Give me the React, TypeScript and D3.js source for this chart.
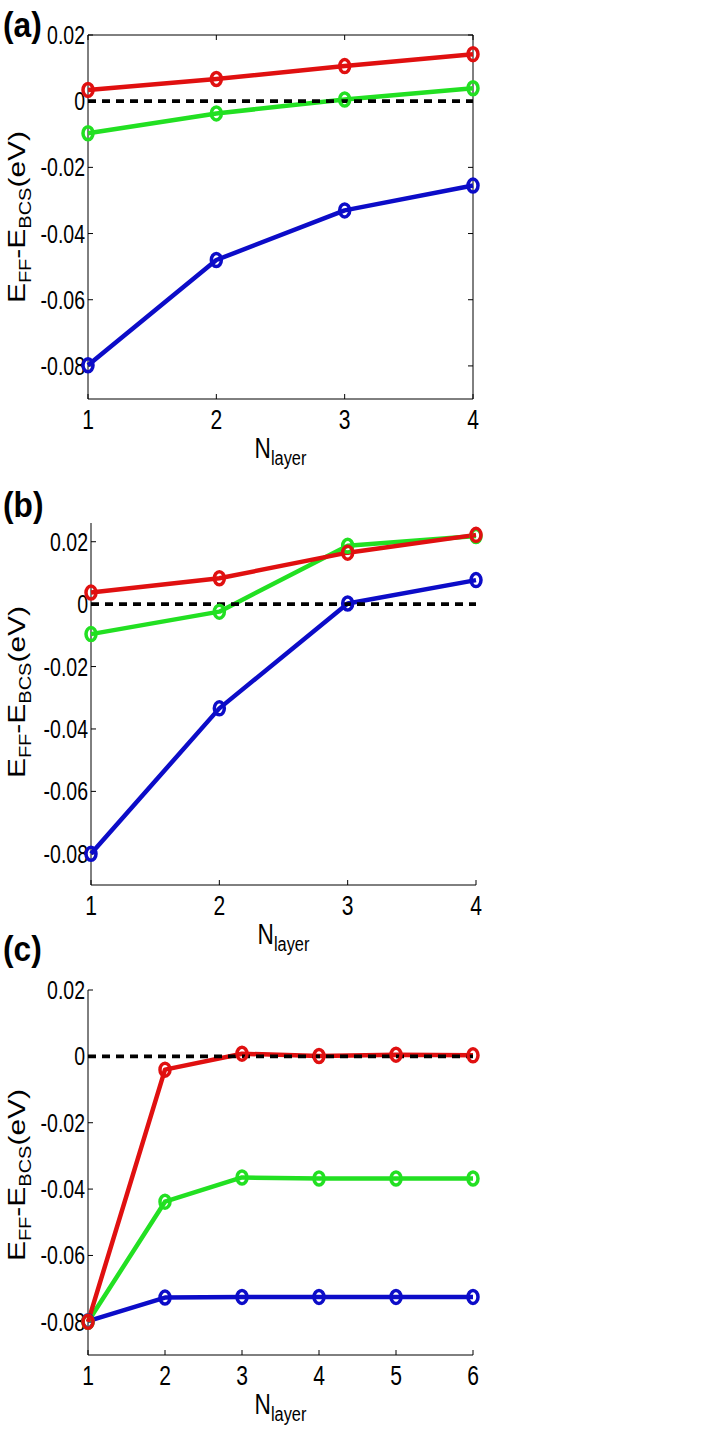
import React from "react";
import * as d3 from "d3";

// N_layer values
const layers4 = [1, 2, 3, 4];
const layers6 = [1, 2, 3, 4, 5, 6];

// (a) E_FF - E_BCS (eV)
const redA = [0.0034, 0.0067, 0.0106, 0.0142];
const greenA = [-0.0097, -0.0037, 0.0005, 0.0039];
const blueA = [-0.0798, -0.048, -0.033, -0.0255];

// (b)
const redB = [0.0037, 0.0083, 0.0165, 0.0222];
const greenB = [-0.0096, -0.0024, 0.0187, 0.0218];
const blueB = [-0.08, -0.0334, 0.0002, 0.0077];

// (c)
const redC = [-0.08, -0.004, 0.0008, 0.0001, 0.0005, 0.0003];
const greenC = [-0.08, -0.0438, -0.0365, -0.0368, -0.0368, -0.0368];
const blueC = [-0.0798, -0.0727, -0.0725, -0.0725, -0.0725, -0.0725];

const yTicks = [-0.08, -0.06, -0.04, -0.02, 0, 0.02];

const RED = "#e01010";
const GREEN = "#22e022";
const BLUE = "#0c0cc8";
const FONT = "'Liberation Sans', Arial, Helvetica, sans-serif";
const SX = 0.78; // picture is squeezed horizontally

const panels = [
  { tag: "(a)", tagY: 37, x0: 88, x1: 473, y0: 35, y1: 399, yMax: 0.02, box: true, labY: 217,
    xs: layers4, series: [[blueA, BLUE], [greenA, GREEN], [redA, RED]] },
  { tag: "(b)", tagY: 517, x0: 91, x1: 476, y0: 523, y1: 885, yMax: 0.026, box: false, labY: 692,
    xs: layers4, series: [[blueB, BLUE], [greenB, GREEN], [redB, RED]] },
  { tag: "(c)", tagY: 961, x0: 88, x1: 473, y0: 990, y1: 1355, yMax: 0.02, box: false, labY: 1175,
    xs: layers6, series: [[blueC, BLUE], [greenC, GREEN], [redC, RED]] },
];

const fmt = (d: number) => (Math.abs(d) < 1e-9 ? "0" : d.toFixed(2));

function Panel({ p }: { p: any }) {
  const x = d3.scaleLinear().domain([p.xs[0], p.xs[p.xs.length - 1]]).range([p.x0, p.x1]);
  const y = d3.scaleLinear().domain([-0.09, p.yMax]).range([p.y1, p.y0]);
  const tk = 5;
  return (
    <g>
      {/* panel tag */}
      <text transform={`translate(3,${p.tagY}) scale(0.88,1)`} fontFamily={FONT} fontWeight="bold" fontSize={36}>
        {p.tag}
      </text>

      {/* axes */}
      <line x1={p.x0} x2={p.x0} y1={p.y0} y2={p.y1} stroke="#000" strokeWidth={1} />
      <line x1={p.x0} x2={p.x1} y1={p.y1} y2={p.y1} stroke="#000" strokeWidth={1} />
      {p.box && (
        <g>
          <line x1={p.x0} x2={p.x1} y1={p.y0} y2={p.y0} stroke="#000" strokeWidth={1} />
          <line x1={p.x1} x2={p.x1} y1={p.y0} y2={p.y1} stroke="#000" strokeWidth={1} />
        </g>
      )}

      {/* y ticks */}
      {yTicks.map((t) => (
        <g key={"y" + t}>
          <line x1={p.x0} x2={p.x0 + tk} y1={y(t)} y2={y(t)} stroke="#000" />
          {p.box && <line x1={p.x1} x2={p.x1 - tk} y1={y(t)} y2={y(t)} stroke="#000" />}
          <text transform={`translate(${p.x0 - 3},${y(t) + 9}) scale(${SX},1)`}
            textAnchor="end" fontFamily={FONT} fontSize={25}>{fmt(t)}</text>
        </g>
      ))}

      {/* x ticks */}
      {p.xs.map((t: number) => (
        <g key={"x" + t}>
          <line x1={x(t)} x2={x(t)} y1={p.y1} y2={p.y1 - tk} stroke="#000" />
          {p.box && <line x1={x(t)} x2={x(t)} y1={p.y0} y2={p.y0 + tk} stroke="#000" />}
          <text transform={`translate(${x(t)},${p.y1 + 30}) scale(${SX},1)`}
            textAnchor="middle" fontFamily={FONT} fontSize={27}>{t}</text>
        </g>
      ))}

      {/* axis labels */}
      <text transform={`translate(${(p.x0 + p.x1) / 2},${p.y1 + 59}) scale(${SX},1)`}
        textAnchor="middle" fontFamily={FONT} fontSize={29}>
        N<tspan fontSize={21} dy={7}>layer</tspan>
      </text>
      <text transform={`translate(25,${p.labY}) scale(${SX},1) rotate(-90)`}
        textAnchor="middle" fontFamily={FONT} fontSize={30}>
        E<tspan fontSize={20} dy={8}>FF</tspan>
        <tspan dy={-8}>-E</tspan>
        <tspan fontSize={20} dy={8}>BCS</tspan>
        <tspan dy={-8}>(eV)</tspan>
      </text>

      {/* series lines */}
      {p.series.map(([vals, c]: [number[], string], i: number) => {
        const line = d3.line<number>().x((_, j) => x(p.xs[j])).y((v) => y(v));
        return <path key={"l" + i} d={line(vals) || ""} fill="none" stroke={c} strokeWidth={4.5} strokeLinejoin="round" />;
      })}

      {/* zero reference */}
      <line x1={x(p.xs[0])} x2={x(p.xs[p.xs.length - 1])} y1={y(0)} y2={y(0)}
        stroke="#000" strokeWidth={3.8} strokeDasharray="8,6" />

      {/* markers */}
      {p.series.map(([vals, c]: [number[], string], i: number) =>
        vals.map((v, j) => (
          <ellipse key={"m" + i + "-" + j} cx={x(p.xs[j])} cy={y(v)} rx={5} ry={6.5}
            fill="none" stroke={c} strokeWidth={3.5} />
        ))
      )}
    </g>
  );
}

export default function App() {
  return (
    <svg width={712} height={1452} style={{ position: "absolute", left: 0, top: 0, background: "#fff" }}>
      <rect width={712} height={1452} fill="#fff" />
      {panels.map((p) => (
        <Panel key={p.tag} p={p} />
      ))}
    </svg>
  );
}
